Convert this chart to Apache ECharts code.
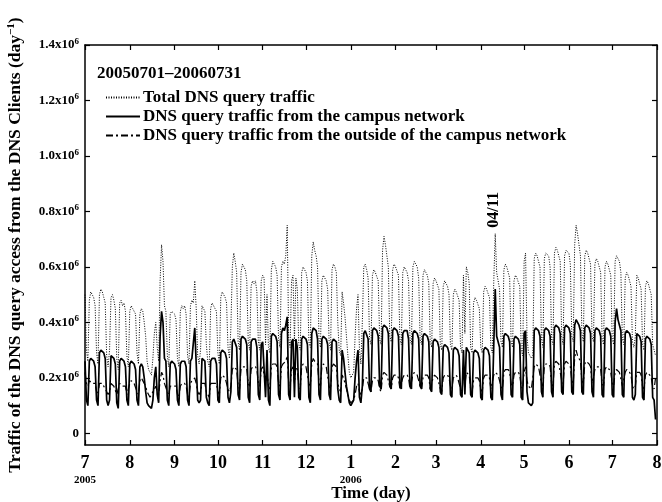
<!DOCTYPE html>
<html>
<head>
<meta charset="utf-8">
<script src="https://cdn.jsdelivr.net/npm/echarts@6/dist/echarts.min.js"></script>
<style>
  html, body { margin: 0; padding: 0; background: #fff; }
  #main { width: 662px; height: 502px; }
</style>
</head>
<body>
<div id="main"></div>
<script>
// daily values, unit = 10^4 queries/day, day 0 = 2005-07-01
var total = [
  50, 30, 26,
  48, 51, 50, 49, 46, 29, 25,
  50, 52, 51, 49, 47, 28, 24,
  30, 49, 50, 48, 45, 27, 23,
  47, 48, 46, 47, 44, 28, 24,
  44, 46, 45, 45, 43, 29, 25,
  43, 45, 44, 40, 35, 26, 23,
  22, 21, 27, 36, 40, 31, 26,
  55, 68, 62, 46, 44, 28, 24,
  43, 44, 44, 43, 41, 27, 24,
  44, 46, 45, 46, 43, 28, 25,
  46, 48, 47, 55, 45, 28, 25,
  30, 46, 45, 44, 32, 26, 24,
  45, 47, 46, 46, 44, 29, 25,
  49, 51, 50, 49, 47, 31, 27,
  38, 60, 65, 62, 58, 33, 30,
  58, 61, 60, 59, 55, 33, 30,
  53, 55, 54, 55, 51, 33, 30,
  55, 57, 56, 32, 50, 31, 29,
  59, 62, 61, 60, 57, 34, 31,
  60, 62, 61, 64, 75, 34, 31,
  55, 57, 33, 56, 52, 32, 30,
  58, 60, 59, 58, 55, 33, 31,
  64, 69, 66, 64, 60, 34, 31,
  55, 57, 56, 55, 52, 33, 30,
  59, 61, 60, 58, 40, 30, 28,
  51, 47, 42, 35, 28, 22, 20,
  20, 22, 35, 45, 50, 30, 25,
  40, 60, 61, 59, 56, 34, 32,
  57, 59, 58, 58, 55, 34, 32,
  66, 71, 68, 64, 60, 35, 33,
  59, 61, 60, 60, 57, 34, 32,
  58, 60, 59, 58, 55, 34, 32,
  60, 62, 61, 60, 56, 34, 32,
  57, 59, 58, 57, 54, 33, 31,
  54, 56, 55, 55, 52, 32, 30,
  53, 55, 54, 53, 50, 32, 30,
  50, 52, 51, 51, 48, 31, 29,
  57, 36, 60, 58, 54, 31, 29,
  47, 49, 48, 48, 45, 31, 29,
  51, 53, 52, 52, 49, 31, 29,
  55, 72, 58, 55, 52, 33, 31,
  59, 61, 60, 60, 56, 33, 31,
  55, 57, 56, 56, 53, 30, 28,
  62, 65, 35, 29, 28, 27, 28,
  63, 65, 64, 64, 60, 34, 31,
  63, 65, 65, 64, 60, 34, 32,
  65, 67, 66, 66, 62, 35, 32,
  64, 66, 66, 65, 61, 35, 33,
  68, 75, 72, 68, 64, 36, 33,
  64, 66, 65, 65, 61, 35, 33,
  61, 63, 62, 62, 58, 34, 32,
  60, 62, 61, 61, 57, 34, 32,
  62, 64, 63, 62, 58, 34, 32,
  56, 58, 57, 57, 53, 33, 31,
  35, 57, 56, 56, 52, 32, 30,
  53, 55, 54, 54, 50, 32, 30,
  28
];
var campus = [
  26, 12, 10,
  26, 27, 27, 26, 24, 12, 10,
  29, 30, 30, 29, 27, 12, 10,
  12, 28, 28, 27, 25, 11, 9,
  26, 27, 27, 26, 24, 12, 10,
  25, 26, 26, 25, 23, 12, 10,
  24, 25, 24, 20, 15, 11, 10,
  10, 9, 12, 20, 24, 14, 11,
  35, 44, 40, 27, 26, 12, 10,
  25, 26, 26, 25, 23, 12, 10,
  25, 26, 26, 26, 24, 12, 10,
  26, 27, 27, 38, 25, 12, 11,
  12, 27, 27, 26, 13, 11, 10,
  26, 27, 27, 27, 25, 12, 11,
  29, 30, 30, 29, 27, 13, 11,
  15, 33, 34, 34, 31, 14, 12,
  34, 35, 35, 34, 32, 13, 11,
  33, 34, 34, 34, 31, 14, 12,
  32, 33, 33, 13, 30, 12, 10,
  35, 36, 36, 35, 33, 14, 12,
  36, 38, 37, 39, 42, 14, 12,
  33, 34, 13, 34, 31, 13, 12,
  34, 35, 35, 34, 32, 13, 11,
  36, 38, 38, 37, 34, 14, 12,
  34, 35, 35, 34, 32, 14, 12,
  33, 34, 34, 33, 16, 12, 11,
  30, 27, 22, 17, 14, 11, 10,
  11, 12, 20, 26, 30, 13, 11,
  17, 36, 37, 37, 34, 16, 15,
  37, 38, 38, 37, 35, 17, 16,
  38, 39, 39, 38, 36, 17, 16,
  37, 38, 38, 37, 35, 17, 16,
  36, 37, 37, 37, 34, 17, 16,
  36, 37, 37, 36, 34, 17, 16,
  35, 36, 36, 35, 33, 16, 15,
  33, 34, 34, 33, 31, 15, 14,
  31, 32, 32, 31, 29, 14, 13,
  30, 31, 31, 30, 28, 14, 13,
  30, 14, 31, 31, 29, 14, 13,
  29, 30, 30, 29, 27, 13, 12,
  30, 31, 31, 30, 28, 13, 12,
  32, 52, 35, 33, 31, 14, 12,
  35, 36, 36, 35, 33, 14, 13,
  34, 35, 35, 34, 32, 13, 12,
  36, 37, 15, 11, 11, 10, 11,
  37, 38, 38, 37, 35, 15, 13,
  37, 38, 38, 37, 35, 15, 13,
  38, 39, 39, 38, 36, 15, 14,
  38, 39, 39, 38, 36, 15, 14,
  39, 41, 40, 39, 37, 15, 14,
  38, 39, 39, 38, 36, 15, 13,
  37, 38, 38, 37, 35, 14, 13,
  37, 38, 38, 37, 35, 14, 13,
  40, 45, 41, 39, 37, 14, 13,
  36, 37, 37, 36, 34, 13, 12,
  14, 36, 36, 35, 33, 13, 12,
  34, 35, 35, 34, 32, 13, 12,
  5
];
var outside = [
  22, 18, 17,
  19, 19, 18, 18, 18, 15, 14,
  18, 18, 18, 17, 17, 15, 14,
  15, 18, 18, 17, 17, 14, 14,
  18, 18, 17, 17, 17, 14, 14,
  18, 19, 19, 18, 18, 15, 14,
  19, 20, 19, 18, 17, 15, 14,
  13, 13, 15, 16, 17, 15, 14,
  19, 22, 21, 18, 18, 15, 14,
  17, 17, 17, 17, 17, 14, 13,
  17, 18, 18, 18, 17, 14, 13,
  18, 19, 19, 20, 18, 15, 14,
  15, 18, 18, 18, 15, 14, 13,
  18, 18, 18, 18, 18, 15, 14,
  20, 21, 21, 20, 20, 16, 15,
  17, 23, 24, 24, 23, 17, 16,
  23, 24, 24, 24, 23, 18, 17,
  23, 24, 24, 24, 23, 18, 17,
  23, 24, 24, 18, 22, 17, 16,
  24, 25, 25, 25, 24, 18, 17,
  24, 25, 25, 26, 28, 18, 17,
  23, 24, 18, 24, 23, 17, 16,
  24, 25, 25, 24, 24, 18, 17,
  25, 27, 26, 26, 25, 18, 17,
  24, 25, 25, 24, 24, 17, 16,
  24, 25, 25, 24, 18, 16, 15,
  21, 20, 18, 16, 14, 12, 11,
  11, 12, 14, 17, 18, 15, 14,
  16, 20, 20, 20, 20, 16, 15,
  19, 20, 20, 20, 19, 16, 15,
  21, 22, 22, 21, 21, 17, 16,
  20, 21, 21, 21, 20, 16, 16,
  20, 21, 21, 21, 20, 16, 16,
  21, 22, 22, 21, 21, 17, 16,
  20, 21, 21, 21, 20, 16, 16,
  20, 21, 21, 20, 20, 16, 15,
  20, 21, 21, 21, 20, 17, 16,
  20, 20, 21, 20, 20, 16, 15,
  21, 17, 22, 22, 21, 16, 15,
  19, 20, 20, 20, 19, 16, 15,
  20, 21, 21, 21, 20, 16, 16,
  21, 22, 22, 21, 21, 17, 16,
  22, 23, 23, 23, 22, 18, 17,
  21, 22, 22, 22, 21, 17, 16,
  22, 24, 19, 17, 17, 16, 16,
  24, 25, 25, 24, 24, 18, 17,
  24, 25, 25, 25, 24, 18, 17,
  25, 26, 26, 25, 25, 19, 18,
  25, 26, 26, 25, 24, 19, 18,
  27, 30, 28, 27, 26, 19, 18,
  25, 26, 26, 25, 24, 18, 18,
  23, 24, 24, 24, 23, 18, 17,
  23, 24, 24, 23, 22, 18, 17,
  22, 23, 23, 22, 22, 17, 17,
  22, 23, 23, 22, 21, 17, 16,
  17, 22, 22, 22, 21, 17, 16,
  21, 22, 22, 21, 20, 17, 16,
  20
];

// month starts (day index) and their labels
var monthTicks = [0, 31, 62, 92, 123, 153, 184, 215, 243, 274, 304, 335, 365, 396];
var monthLabels = ['7', '8', '9', '10', '11', '12', '1', '2', '3', '4', '5', '6', '7', '8'];
var yearLabels = { 0: '2005', 184: '2006' };
var yTicks = [0, 200000, 400000, 600000, 800000, 1000000, 1200000, 1400000];
var noteDay = 284; // 04/11
var noteText = '04/11';

var FONT = '"Liberation Serif", "Times New Roman", serif';

function toPairs(arr) {
  var out = [];
  for (var i = 0; i < arr.length; i++) {
    out.push([i, arr[i] * 10000]);
  }
  return out;
}

var chart = echarts.init(document.getElementById('main'), null, { renderer: 'canvas' });

var axisLineStyle = { color: '#000', width: 1.5 };
var tickStyle = { color: '#000', width: 1.2 };

var option = {
  animation: false,
  backgroundColor: '#fff',
  title: {
    text: '20050701\u201320060731',
    left: 92,
    top: 60,
    textStyle: { fontFamily: FONT, fontWeight: 'bold', fontSize: 17, color: '#000' }
  },
  legend: {
    orient: 'vertical',
    left: 100,
    top: 84,
    itemWidth: 34,
    itemHeight: 10,
    itemGap: 2,
    itemStyle: { opacity: 0 },
    textStyle: { fontFamily: FONT, fontWeight: 'bold', fontSize: 17, color: '#000', padding: [0, 0, 0, -2] },
    data: [
      'Total DNS query traffic',
      'DNS query traffic from the campus network',
      'DNS query traffic from the outside of the campus network'
    ]
  },
  grid: { left: 85, right: 5, top: 45, bottom: 57, outerBoundsMode: 'none' },
  xAxis: [{
    type: 'value',
    min: 0,
    max: 396,
    position: 'bottom',
    name: 'Time (day)',
    nameLocation: 'middle',
    nameGap: 40,
    nameMoveOverlap: false,
    nameTextStyle: { fontFamily: FONT, fontWeight: 'bold', fontSize: 17, color: '#000' },
    axisLine: { onZero: false, lineStyle: axisLineStyle },
    axisTick: { inside: true, length: 5, customValues: monthTicks, lineStyle: tickStyle },
    axisLabel: {
      customValues: monthTicks,
      margin: 9,
      formatter: function (v) {
        var idx = monthTicks.indexOf(v);
        var s = '{m|' + monthLabels[idx] + '}';
        if (yearLabels[v]) s += '\n{y|' + yearLabels[v] + '}';
        return s;
      },
      rich: {
        m: { fontFamily: FONT, fontWeight: 'bold', fontSize: 18, color: '#000', lineHeight: 18 },
        y: { fontFamily: FONT, fontWeight: 'bold', fontSize: 11, color: '#000', lineHeight: 17 }
      }
    },
    splitLine: { show: false }
  }, {
    type: 'value',
    min: 0,
    max: 396,
    position: 'top',
    axisLine: { onZero: false, lineStyle: axisLineStyle },
    axisTick: { inside: true, length: 5, customValues: monthTicks, lineStyle: tickStyle },
    axisLabel: { show: false },
    splitLine: { show: false }
  }],
  yAxis: [{
    type: 'value',
    min: -42000,
    max: 1400000,
    position: 'left',
    name: '{t|Traffic of the DNS query access from the DNS Clients (day}{s|\u22121}{t|)}',
    nameLocation: 'middle',
    nameGap: 60,
    nameMoveOverlap: false,
    nameTextStyle: {
      rich: {
        t: { fontFamily: FONT, fontWeight: 'bold', fontSize: 17.5, color: '#000' },
        s: { fontFamily: FONT, fontWeight: 'bold', fontSize: 11, color: '#000', padding: [0, 0, 8, 0] }
      }
    },
    axisLine: { onZero: false, lineStyle: axisLineStyle },
    axisTick: { inside: true, length: 5, customValues: yTicks, lineStyle: tickStyle },
    axisLabel: {
      customValues: yTicks,
      margin: 6,
      formatter: function (v) {
        if (v === 0) return '{n|0}';
        return '{n|' + (v / 1e6).toFixed(1) + 'x10}{s|6}';
      },
      rich: {
        n: { fontFamily: FONT, fontWeight: 'bold', fontSize: 13, color: '#000' },
        s: { fontFamily: FONT, fontWeight: 'bold', fontSize: 9, color: '#000', padding: [0, 0, 7, 0] }
      }
    },
    splitLine: { show: false }
  }, {
    type: 'value',
    min: -42000,
    max: 1400000,
    position: 'right',
    axisLine: { onZero: false, lineStyle: axisLineStyle },
    axisTick: { inside: true, length: 5, customValues: yTicks, lineStyle: tickStyle },
    axisLabel: { show: false },
    splitLine: { show: false }
  }],
  series: [{
    name: 'Total DNS query traffic',
    type: 'line',
    symbol: 'none',
    data: toPairs(total),
    lineStyle: { color: '#000', width: 1, type: [1, 1.5] },
    itemStyle: { color: '#000' },
    z: 2
  }, {
    name: 'DNS query traffic from the outside of the campus network',
    type: 'line',
    symbol: 'none',
    data: toPairs(outside),
    lineStyle: { color: '#000', width: 1.2, type: [7, 3, 2, 3] },
    itemStyle: { color: '#000' },
    z: 3
  }, {
    name: 'DNS query traffic from the campus network',
    type: 'line',
    symbol: 'none',
    data: toPairs(campus),
    lineStyle: { color: '#000', width: 1.7 },
    itemStyle: { color: '#000' },
    z: 4
  }]
};

chart.setOption(option);

// rotated date note above the 04/11 peak
var p = chart.convertToPixel({ xAxisIndex: 0, yAxisIndex: 0 }, [noteDay, total[noteDay] * 10000]);
chart.setOption({
  graphic: [{
    type: 'text',
    x: p[0] - 1,
    y: p[1] - 6,
    rotation: Math.PI / 2,
    style: {
      text: noteText,
      font: 'bold 16px ' + FONT,
      fill: '#000',
      align: 'left',
      verticalAlign: 'middle'
    }
  }]
});
</script>
</body>
</html>
